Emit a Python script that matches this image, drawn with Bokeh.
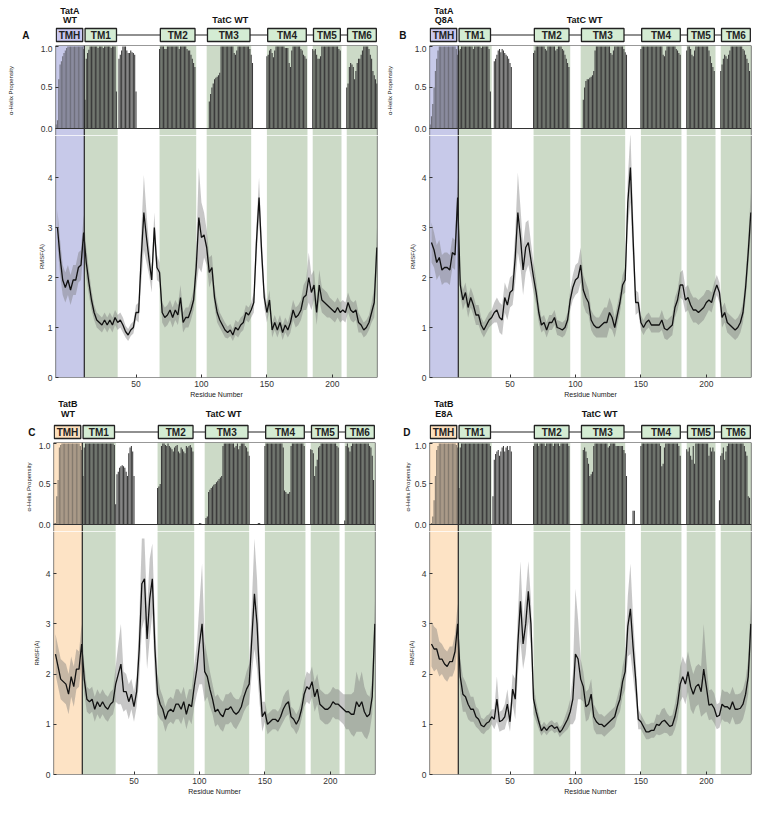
from bokeh.plotting import figure
from bokeh.layouts import column, row
from bokeh.models import Range1d, FixedTicker, PrintfTickFormatter, Span
from bokeh.embed import file_html
from bokeh.resources import INLINE
from bokeh.core.properties import value

# ----------------------------------------------------------------- data
helix_residues = list(range(-11, 235))      # one bar per residue
rmsf_residues = list(range(-10, 235, 2))     # RMSF sampled every 2 residues

tm_names = ["TM1", "TM2", "TM3", "TM4", "TM5", "TM6"]
tm_start = [10.5, 68, 104, 150, 185, 211]
tm_end = [36, 96, 138, 181, 207, 234.5]
tmh_start, tmh_end = -11.5, 10.5

helix_A = [
    0.05, 0.10, 0.60, 0.78, 0.82, 0.88, 0.92, 0.95, 0.98, 1.00,
    1, 1, 1, 1, 1, 1, 1, 1, 1, 1,
    1.00, 0.97, 0.35, 0.85, 0.92, 0.96, 1, 1, 1, 1,
    1, 1, 0.98, 1, 1, 1, 0.98, 1, 1, 1,
    1, 1, 0.98, 1, 1, 1, 0.45, 0, 0.85, 0.90,
    0.95, 1, 1, 1, 0.95, 0.92, 0.92, 0.95, 0.93, 0.92,
    0.90, 0.45, 0, 0, 0, 0, 0, 0, 0, 0,
    0, 0, 0, 0, 0, 0, 0, 0, 0, 0.97,
    1, 1, 1, 0.97, 0.97, 1, 1, 1, 1, 1,
    1, 1, 1, 1, 0.97, 1, 1, 1, 1, 1,
    0.97, 0.95, 0.95, 0.90, 0.85, 0.80, 0.75, 0, 0, 0,
    0, 0, 0, 0, 0, 0, 0, 0.33, 0.42, 0.50,
    0.55, 0.60, 0.62, 0.63, 0.65, 0.68, 1, 1, 1, 1,
    1, 1, 1, 1, 1, 1, 0.92, 0.90, 0.95, 1,
    1, 1, 1, 1, 1, 1, 1, 1, 0.97, 0.90,
    0.80, 0, 0, 0, 0, 0, 0, 0, 0, 0,
    0, 0.88, 0.90, 0.95, 0.97, 0.92, 0.87, 0.95, 1, 1,
    1, 1, 1, 1, 1, 0.98, 0.98, 0.98, 0.80, 0.75,
    0.95, 1, 1, 1, 1, 1, 1, 0.97, 0.95, 0.90,
    0.88, 0.85, 0, 0, 0, 0, 0.97, 0.95, 0.97, 0.90,
    0.85, 0.85, 0.88, 1, 1, 1, 1, 1, 1, 1,
    1, 1, 1, 1, 1, 1, 0.97, 0.95, 0, 0,
    0, 0, 0.50, 0.55, 0.75, 0.80, 0.78, 0.75, 0.60, 0.70,
    0.80, 0.85, 0.85, 0.90, 0.95, 1, 1, 1, 1, 0.97,
    0.90, 0.85, 0.70, 0.65, 0.60, 0.55,
]

helix_B = [
    0.05, 0.15, 0.30, 0.50, 0.70, 0.85, 0.95, 1, 1, 1,
    1, 1, 1, 1, 1, 1, 1, 1, 1, 1,
    0.97, 0.90, 0.95, 0.97, 1, 1, 1, 1, 1, 1,
    1, 1, 1, 0.97, 1, 1, 1, 1, 1, 0.98,
    1, 1, 1, 1, 1, 0.97, 0.45, 0, 0, 0.82,
    0.85, 0.90, 0.95, 0.97, 0.93, 0.97, 0.95, 0.92, 0.90, 0.88,
    0.85, 0.80, 0.75, 0, 0, 0, 0, 0, 0, 0,
    0, 0, 0, 0, 0, 0, 0, 0, 0, 0.92,
    0.95, 1, 1, 1, 1, 1, 1, 1, 0.97, 0.95,
    1, 1, 1, 1, 1, 1, 0.95, 0.97, 1, 1,
    1, 0.97, 0.95, 0.90, 0.85, 0.80, 0.75, 0, 0, 0,
    0, 0, 0, 0, 0, 0, 0, 0.35, 0.50, 0.58,
    0.60, 0.60, 0.62, 0.63, 0.65, 0.70, 0.95, 1, 1, 1,
    1, 1, 1, 1, 1, 1, 1, 1, 0.92, 0.90,
    0.95, 1, 1, 1, 1, 1, 1, 1, 0.97, 0.93,
    0.90, 0, 0, 0, 0, 0, 0, 0, 0, 0,
    0, 0.97, 1, 1, 1, 1, 1, 1, 1, 1,
    1, 1, 1, 1, 1, 1, 1, 1, 0.90, 0.88,
    0.95, 1, 1, 1, 1, 1, 1, 1, 0.97, 0.95,
    0.92, 0.90, 0, 0, 0, 0, 0.95, 1, 1, 0.97,
    0.90, 0.88, 0.95, 1, 1, 1, 1, 1, 1, 1,
    1, 1, 1, 0.95, 0.88, 0.80, 0.75, 0.70, 0, 0,
    0, 0, 0.70, 0.78, 0.85, 0.90, 0.88, 0.85, 0.90, 0.95,
    1, 1, 1, 1, 1, 1, 1, 1, 1, 0.97,
    0.95, 0.90, 0.85, 0.80, 0.70, 0,
]

helix_C = [
    0.02, 0.02, 0.35, 0.55, 0.95, 0.98, 1, 1, 1, 1,
    1, 1, 1, 1, 1, 1, 1, 1, 1, 1,
    0.97, 0.92, 0.60, 0.95, 1, 1, 1, 1, 1, 1,
    1, 1, 1, 1, 1, 1, 1, 1, 1, 1,
    1, 1, 1, 1, 1, 1, 0.98, 0.25, 0.62, 0.65,
    0.70, 0.72, 0.73, 0.72, 0.70, 0.65, 0.60, 0.88, 0.95, 0.97,
    0.90, 0.60, 0, 0, 0, 0, 0, 0, 0, 0,
    0, 0, 0, 0, 0, 0, 0, 0, 0, 0.45,
    0.47, 0.50, 0.97, 1, 1, 0.98, 0.97, 1, 0.97, 0.95,
    0.93, 0.90, 0.95, 0.97, 0.98, 0.90, 0.88, 0.95, 0.93, 0.90,
    0.88, 0.97, 0.95, 0.97, 0.98, 0.95, 0.90, 0, 0, 0,
    0, 0.02, 0.02, 0, 0, 0, 0.08, 0.10, 0.40, 0.43,
    0.45, 0.47, 0.49, 0.50, 0.52, 0.54, 0.56, 0.58, 0.60, 0.97,
    1, 1, 1, 1, 1, 1, 1, 1, 0.95, 0.97,
    1, 0.93, 0.97, 1, 1, 1, 0.97, 0.95, 0.90, 0.85,
    0, 0, 0, 0, 0, 0, 0.02, 0.02, 0, 0,
    0, 0.97, 1, 1, 1, 1, 1, 1, 1, 1,
    1, 1, 1, 1, 1, 0.95, 0.42, 0.40, 0.38, 0.38,
    0.40, 0.97, 1, 1, 1, 1, 1, 1, 1, 1,
    1, 0.97, 0, 0, 0, 0, 0.93, 0.92, 0.88, 0.60,
    0.72, 0.80, 0.95, 0.97, 1, 1, 1, 1, 1, 1,
    1, 1, 1, 1, 1, 1, 0.97, 0.95, 0, 0,
    0, 0, 0.05, 0.97, 1, 0.95, 0.90, 0.97, 1, 1,
    1, 1, 1, 1, 1, 1, 1, 1, 1, 1,
    1, 0.97, 0.95, 0.85, 0.55, 0,
]

helix_D = [
    0, 0.02, 0.10, 0.30, 0.60, 0.92, 0.97, 1, 1, 1,
    1, 1, 1, 1, 1, 1, 1, 1, 1, 1,
    0.98, 0.95, 0.45, 0.95, 1, 1, 1, 1, 1, 1,
    1, 1, 1, 1, 1, 1, 1, 1, 1, 1,
    1, 1, 1, 1, 1, 1, 0.97, 0, 0.35, 0.80,
    0.87, 0.90, 0.92, 0.85, 0.90, 0.95, 0.97, 0.90, 0.95, 0.97,
    0.92, 0.97, 0.90, 0, 0, 0, 0, 0, 0, 0,
    0, 0, 0, 0, 0, 0, 0, 0, 0, 0.97,
    1, 1, 1, 0.97, 1, 1, 1, 1, 0.97, 1,
    1, 1, 1, 1, 0.97, 1, 1, 1, 1, 0.97,
    1, 1, 1, 1, 1, 1, 0.97, 0, 0, 0,
    0, 0, 0, 0, 0, 0, 0, 0.92, 0.95, 0.90,
    0.82, 0.75, 0.60, 0.62, 0.65, 0.97, 1, 1, 1, 1,
    1, 1, 1, 1, 1, 1, 0.95, 0.97, 1, 1,
    1, 1, 0.97, 0.97, 0.97, 0.97, 0.97, 0.97, 0.92, 0.88,
    0.60, 0, 0, 0, 0, 0.17, 0.17, 0, 0, 0,
    0, 0.97, 1, 1, 1, 1, 1, 1, 1, 1,
    1, 1, 1, 1, 1, 1, 0.97, 0.72, 0.75, 0.95,
    1, 1, 1, 1, 1, 1, 1, 1, 1, 1,
    0.97, 0.85, 0, 0, 0, 0, 0.93, 0.90, 0.95, 0.85,
    0.80, 0.97, 0.75, 1, 1, 1, 1, 1, 1, 1,
    1, 1, 1, 0.85, 0.95, 0.90, 0.95, 0.90, 0, 0,
    0, 0.30, 0.85, 0.88, 0.95, 0.80, 0.90, 0.97, 1, 1,
    1, 1, 1, 1, 1, 1, 1, 1, 1, 1,
    0.97, 0.90, 0.85, 0.35, 0.33, 0,
]

rmsf_A = [
    3.00, 2.40, 1.95, 1.80, 1.95, 1.75, 1.95, 1.95, 2.20, 2.25,
    2.90, 2.30, 1.90, 1.55, 1.30, 1.15, 1.10, 1.05, 1.15, 1.05,
    1.15, 1.05, 1.20, 1.10, 1.15, 1.05, 0.92, 0.85, 0.95, 1.00,
    1.30, 1.30, 2.40, 3.30, 2.80, 2.35, 1.95, 3.00, 2.20, 2.10,
    1.30, 1.20, 1.25, 1.35, 1.20, 1.35, 1.25, 1.60, 1.10, 1.20,
    1.20, 1.35, 1.55, 2.20, 3.20, 2.80, 2.85, 2.60, 2.10, 2.20,
    1.60, 1.30, 1.15, 1.05, 0.95, 0.90, 0.95, 0.85, 1.00, 0.95,
    1.05, 1.10, 1.30, 1.25, 1.35, 1.50, 2.70, 3.60, 2.50, 1.60,
    1.30, 1.55, 0.95, 1.10, 0.95, 1.10, 0.90, 1.05, 0.95, 1.10,
    1.35, 1.20, 1.25, 1.35, 1.60, 1.65, 2.00, 1.70, 1.85, 1.30,
    1.85, 1.55, 1.50, 1.45, 1.40, 1.35, 1.30, 1.40, 1.30, 1.35,
    1.30, 1.50, 1.35, 1.30, 1.35, 1.10, 1.05, 0.95, 1.00, 1.10,
    1.30, 1.50, 2.60,
]
sd_A = [
    0.35, 0.35, 0.30, 0.30, 0.30, 0.30, 0.30, 0.30, 0.30, 0.30,
    0.35, 0.30, 0.25, 0.20, 0.15, 0.15, 0.15, 0.15, 0.15, 0.15,
    0.15, 0.15, 0.15, 0.15, 0.15, 0.15, 0.12, 0.12, 0.12, 0.12,
    0.15, 0.20, 0.50, 0.75, 0.50, 0.30, 0.25, 0.30, 0.25, 0.20,
    0.20, 0.20, 0.20, 0.20, 0.20, 0.20, 0.20, 0.25, 0.20, 0.20,
    0.20, 0.20, 0.20, 0.40, 1.00, 0.70, 0.45, 0.35, 0.30, 0.25,
    0.20, 0.20, 0.15, 0.15, 0.15, 0.12, 0.12, 0.12, 0.15, 0.15,
    0.15, 0.15, 0.15, 0.15, 0.15, 0.20, 0.35, 0.40, 0.30, 0.20,
    0.20, 0.20, 0.15, 0.15, 0.15, 0.15, 0.15, 0.15, 0.15, 0.20,
    0.20, 0.20, 0.20, 0.20, 0.25, 0.30, 0.50, 0.35, 0.30, 0.25,
    0.30, 0.25, 0.25, 0.25, 0.20, 0.20, 0.20, 0.20, 0.20, 0.20,
    0.20, 0.20, 0.20, 0.20, 0.20, 0.20, 0.15, 0.15, 0.15, 0.15,
    0.20, 0.30, 0.40,
]

rmsf_B = [
    2.70, 2.55, 2.30, 2.40, 2.15, 2.20, 2.20, 2.15, 2.50, 2.45,
    3.60, 1.85, 1.55, 1.70, 1.40, 1.60, 1.45, 1.25, 1.25, 1.05,
    0.95, 1.05, 1.15, 1.20, 1.30, 1.35, 1.20, 1.15, 1.60, 1.45,
    1.70, 1.75, 2.40, 3.30, 2.80, 2.15, 2.60, 2.70, 2.35, 2.00,
    1.70, 1.30, 1.05, 1.10, 0.95, 1.10, 1.10, 1.20, 1.00, 0.98,
    0.95, 1.00, 1.15, 1.55, 1.80, 1.95, 2.00, 2.25, 1.75, 1.60,
    1.50, 1.15, 1.05, 1.00, 1.00, 1.05, 1.10, 1.10, 1.30, 1.20,
    1.00, 1.25, 1.50, 1.85, 1.95, 3.50, 4.20, 2.80, 1.50, 1.50,
    1.10, 1.00, 1.10, 1.15, 1.05, 1.05, 1.05, 1.05, 1.15, 0.98,
    0.95, 1.00, 1.05, 1.40, 1.55, 1.85, 1.85, 1.55, 1.60, 1.45,
    1.35, 1.35, 1.30, 1.35, 1.40, 1.50, 1.55, 1.50, 1.70, 1.85,
    1.70, 1.20, 1.30, 1.10, 1.05, 1.00, 0.95, 1.00, 1.10, 1.30,
    1.80, 2.50, 3.30,
]
sd_B = [
    0.40, 0.35, 0.35, 0.35, 0.30, 0.30, 0.30, 0.30, 0.30, 0.30,
    0.40, 0.20, 0.20, 0.20, 0.20, 0.20, 0.20, 0.20, 0.20, 0.15,
    0.15, 0.15, 0.15, 0.15, 0.20, 0.25, 0.30, 0.30, 0.30, 0.30,
    0.30, 0.30, 0.50, 0.80, 0.60, 0.50, 0.50, 0.45, 0.35, 0.30,
    0.25, 0.20, 0.15, 0.15, 0.15, 0.15, 0.15, 0.15, 0.15, 0.15,
    0.15, 0.15, 0.15, 0.20, 0.25, 0.30, 0.30, 0.35, 0.30, 0.30,
    0.25, 0.20, 0.20, 0.20, 0.20, 0.25, 0.30, 0.30, 0.30, 0.25,
    0.20, 0.20, 0.20, 0.20, 0.25, 0.50, 0.70, 0.50, 0.25, 0.20,
    0.15, 0.15, 0.15, 0.15, 0.15, 0.15, 0.15, 0.15, 0.20, 0.20,
    0.20, 0.20, 0.20, 0.20, 0.20, 0.25, 0.30, 0.25, 0.25, 0.25,
    0.25, 0.25, 0.25, 0.25, 0.25, 0.25, 0.20, 0.20, 0.20, 0.20,
    0.20, 0.20, 0.20, 0.20, 0.20, 0.20, 0.20, 0.20, 0.20, 0.20,
    0.25, 0.30, 0.40,
]

rmsf_C = [
    2.40, 2.15, 1.90, 1.85, 1.80, 1.60, 1.95, 1.75, 2.10, 2.10,
    2.60, 1.90, 1.50, 1.45, 1.50, 1.30, 1.45, 1.35, 1.45, 1.35,
    1.30, 1.40, 1.45, 1.80, 2.00, 2.20, 1.65, 1.65, 1.45, 1.60,
    1.35, 1.65, 2.50, 3.80, 3.90, 2.70, 3.50, 3.90, 2.50, 1.60,
    1.40, 1.30, 1.10, 1.25, 1.30, 1.25, 1.40, 1.40, 1.30, 1.45,
    1.20, 1.40, 1.35, 1.75, 2.10, 2.60, 3.00, 2.05, 1.95, 1.70,
    1.50, 1.25, 1.30, 1.20, 1.15, 1.30, 1.30, 1.35, 1.25, 1.20,
    1.25, 1.35, 1.55, 1.70, 1.80, 2.70, 3.60, 3.00, 1.90, 1.15,
    1.25, 1.00, 1.05, 1.10, 1.10, 1.05, 1.15, 1.30, 1.40, 1.45,
    1.15, 1.10, 1.00, 1.10, 1.30, 1.60, 1.75, 1.70, 1.85, 1.55,
    1.70, 1.40, 1.35, 1.30, 1.30, 1.35, 1.45, 1.40, 1.40, 1.35,
    1.30, 1.25, 1.25, 1.20, 1.20, 1.45, 1.35, 1.45, 1.25, 1.15,
    1.20, 1.55, 3.00,
]
sd_C = [
    0.40, 0.40, 0.40, 0.40, 0.40, 0.40, 0.40, 0.40, 0.40, 0.35,
    0.40, 0.30, 0.25, 0.25, 0.25, 0.25, 0.25, 0.25, 0.25, 0.25,
    0.25, 0.25, 0.25, 0.35, 0.60, 0.80, 0.40, 0.35, 0.35, 0.30,
    0.30, 0.30, 0.60, 0.90, 0.80, 0.60, 0.80, 0.70, 0.60, 0.40,
    0.30, 0.25, 0.25, 0.25, 0.25, 0.25, 0.30, 0.30, 0.30, 0.30,
    0.30, 0.30, 0.35, 0.40, 0.50, 0.80, 1.20, 0.60, 0.40, 0.35,
    0.30, 0.30, 0.30, 0.30, 0.30, 0.30, 0.30, 0.30, 0.30, 0.30,
    0.25, 0.25, 0.30, 0.35, 0.40, 0.70, 1.10, 0.90, 0.50, 0.30,
    0.20, 0.20, 0.20, 0.20, 0.20, 0.20, 0.20, 0.25, 0.25, 0.25,
    0.20, 0.20, 0.20, 0.20, 0.20, 0.25, 0.30, 0.30, 0.30, 0.30,
    0.30, 0.30, 0.30, 0.30, 0.30, 0.30, 0.30, 0.30, 0.30, 0.30,
    0.30, 0.35, 0.35, 0.40, 0.45, 0.60, 0.50, 0.60, 0.50, 0.45,
    0.35, 0.35, 0.45,
]

rmsf_D = [
    2.60, 2.50, 2.50, 2.30, 2.30, 2.20, 2.15, 2.25, 2.25, 2.45,
    3.00, 1.95, 1.60, 1.55, 1.40, 1.30, 1.30, 1.15, 1.10, 0.98,
    0.95, 1.02, 1.05, 1.15, 1.10, 1.50, 1.05, 1.08, 1.15, 1.40,
    1.05, 1.70, 1.50, 2.60, 3.45, 2.60, 3.00, 3.65, 3.00, 1.50,
    1.25, 1.05, 0.87, 0.95, 0.88, 0.95, 0.98, 0.92, 0.95, 0.84,
    0.90, 1.00, 1.10, 1.25, 1.50, 2.40, 2.30, 1.90, 1.75, 1.35,
    1.40, 1.60, 1.15, 1.05, 1.00, 1.00, 0.95, 1.00, 1.05, 1.10,
    1.15, 1.35, 1.50, 1.85, 2.05, 2.95, 3.30, 2.55, 1.90, 1.10,
    1.05, 0.95, 0.85, 0.85, 0.88, 0.88, 1.00, 0.98, 1.05, 1.08,
    1.02, 0.96, 0.98, 1.15, 1.40, 1.80, 1.95, 1.80, 2.05, 1.75,
    1.60, 1.75, 1.80, 1.65, 2.10, 1.75, 1.38, 1.40, 1.32, 1.15,
    1.18, 1.40, 1.35, 1.35, 1.30, 1.45, 1.30, 1.30, 1.32, 1.40,
    1.60, 1.95, 3.00,
]
sd_D = [
    0.45, 0.45, 0.40, 0.35, 0.30, 0.30, 0.30, 0.30, 0.30, 0.35,
    0.40, 0.35, 0.35, 0.30, 0.30, 0.25, 0.25, 0.20, 0.20, 0.15,
    0.15, 0.15, 0.15, 0.15, 0.20, 0.45, 0.20, 0.20, 0.25, 0.30,
    0.20, 0.30, 0.40, 0.60, 0.80, 0.50, 0.60, 0.60, 0.50, 0.30,
    0.20, 0.15, 0.10, 0.10, 0.10, 0.10, 0.10, 0.10, 0.10, 0.10,
    0.10, 0.15, 0.20, 0.25, 0.50, 1.30, 0.80, 0.40, 0.30, 0.30,
    0.30, 0.30, 0.25, 0.25, 0.20, 0.20, 0.20, 0.20, 0.20, 0.20,
    0.20, 0.20, 0.25, 0.30, 0.35, 0.60, 0.90, 0.60, 0.40, 0.20,
    0.15, 0.15, 0.15, 0.15, 0.15, 0.15, 0.20, 0.20, 0.25, 0.25,
    0.20, 0.20, 0.20, 0.25, 0.30, 0.35, 0.40, 0.40, 0.40, 0.45,
    0.40, 0.40, 0.40, 0.50, 0.90, 0.50, 0.30, 0.30, 0.30, 0.25,
    0.25, 0.30, 0.30, 0.30, 0.30, 0.30, 0.30, 0.30, 0.30, 0.30,
    0.30, 0.35, 0.45,
]

for name, arr, n in [("helix_A", helix_A, 246), ("helix_B", helix_B, 246),
                     ("helix_C", helix_C, 246), ("helix_D", helix_D, 246),
                     ("rmsf_A", rmsf_A, 123), ("sd_A", sd_A, 123),
                     ("rmsf_B", rmsf_B, 123), ("sd_B", sd_B, 123),
                     ("rmsf_C", rmsf_C, 123), ("sd_C", sd_C, 123),
                     ("rmsf_D", rmsf_D, 123), ("sd_D", sd_D, 123)]:
    assert len(arr) == n, (name, len(arr))

# ----------------------------------------------------------------- style
FONT = "Liberation Sans"
FRAME_W = 322
X0, X1 = -11.5, 234.5
BAR_TOP = 1.012
RMSF_TOP = 4.98
STRIP = 7          # px of the RMSF panel carried by the bar figure (room for "0.0")
GREEN = "#ccdac7"
LAV = "#c7c9e9"
PEACH = "#fde3c5"
BOX_GREEN = "#d4ecd3"
BOX_LAV = "#c9c7ef"
BOX_PEACH = "#fde0bd"
DARK = "#222222"
EDGE = "#333333"

panels = [
    dict(letter="A", partner="TatA", variant="WT", region=LAV, box=BOX_LAV,
         helix=helix_A, rmsf=rmsf_A, sd=sd_A, lb=55, rb=6,
         topo_h=45, bar_h=83, rmsf_h=249, bottom=23, tatc_x=122, letter_off=20,
         y_name=34.5, y_var=25.5, y_tatc=26, bar_lab=24, rmsf_lab=0),
    dict(letter="B", partner="TatA", variant="Q8A", region=LAV, box=BOX_LAV,
         helix=helix_B, rmsf=rmsf_B, sd=sd_B, lb=46, rb=6,
         topo_h=45, bar_h=83, rmsf_h=249, bottom=23, tatc_x=107, letter_off=17,
         y_name=34.5, y_var=25.5, y_tatc=26, bar_lab=19, rmsf_lab=3),
    dict(letter="C", partner="TatB", variant="WT", region=PEACH, box=BOX_PEACH,
         helix=helix_C, rmsf=rmsf_C, sd=sd_C, lb=53, rb=8,
         topo_h=42, bar_h=82, rmsf_h=250, bottom=24, tatc_x=118.5, letter_off=12,
         y_name=38.5, y_var=28.5, y_tatc=28.5, bar_lab=4, rmsf_lab=3),
    dict(letter="D", partner="TatB", variant="E8A", region=PEACH, box=BOX_PEACH,
         helix=helix_D, rmsf=rmsf_D, sd=sd_D, lb=46, rb=6,
         topo_h=42, bar_h=82, rmsf_h=250, bottom=24, tatc_x=118.5, letter_off=13,
         y_name=38.5, y_var=28.5, y_tatc=28.5, bar_lab=1, rmsf_lab=4),
]


def style_axis(ax):
    ax.major_label_text_font = FONT
    ax.major_label_text_font_size = "8.5px"
    ax.major_label_text_color = "#333333"
    ax.axis_label_text_font = FONT
    ax.axis_label_text_font_style = "normal"
    ax.axis_label_text_color = DARK
    ax.major_tick_in = 3
    ax.major_tick_out = 0
    ax.minor_tick_line_color = None
    ax.axis_line_color = None
    ax.major_tick_line_color = "#333333"
    ax.major_label_standoff = 3


def edges(p, horiz, vert):
    for loc in horiz:
        p.add_layout(Span(location=loc, dimension="width", line_color=EDGE, line_width=1.2))
    for loc in vert:
        p.add_layout(Span(location=loc, dimension="height", line_color=EDGE, line_width=1.2))


def make_topo(cfg):
    H = cfg["topo_h"]
    p = figure(frame_width=FRAME_W, frame_height=H, title=None,
               x_range=Range1d(X0, X1), y_range=Range1d(0, H),
               output_backend="svg", toolbar_location=None, x_axis_location=None,
               min_border_left=cfg["lb"], min_border_right=cfg["rb"],
               min_border_top=0, min_border_bottom=0)
    p.grid.visible = False
    p.outline_line_color = None
    b0, b1 = 4, 17
    ym = (b0 + b1) / 2
    # panel letter drawn as the single tick label of the strip's y axis
    ya = p.yaxis[0]
    ya.ticker = FixedTicker(ticks=[ym])
    ya.major_label_overrides = {ym: cfg["letter"]}
    ya.major_label_text_font = FONT
    ya.major_label_text_font_style = "bold"
    ya.major_label_text_font_size = "10px"
    ya.major_label_text_color = "#111111"
    ya.major_label_standoff = int(cfg["letter_off"])
    ya.major_tick_line_color = None
    ya.minor_tick_line_color = None
    ya.axis_line_color = None
    left = [s + 0.6 for s in tm_start]
    right = [e - 0.9 for e in tm_end]
    p.segment(x0=right[:-1], y0=ym, x1=left[1:], y1=ym, line_color=DARK, line_width=1.1)
    p.quad(left=[tmh_start + 0.6], right=[tmh_end - 1.2], bottom=b0, top=b1,
           fill_color=cfg["box"], line_color=DARK, line_width=1.3)
    p.quad(left=left, right=right, bottom=b0, top=b1,
           fill_color=BOX_GREEN, line_color=DARK, line_width=1.3)
    cx = [(l + r) / 2 for l, r in zip(left, right)]
    p.text(x=[(tmh_start + tmh_end - 0.6) / 2] + cx, y=ym, text=["TMH"] + tm_names,
           text_font=value(FONT), text_font_style="bold", text_font_size="10px",
           text_align="center", text_baseline="middle", text_color=DARK)
    mid_tmh = (tmh_start + tmh_end) / 2
    p.text(x=[mid_tmh, mid_tmh, cfg["tatc_x"]],
           y=[cfg["y_name"], cfg["y_var"], cfg["y_tatc"]],
           text=[cfg["partner"], cfg["variant"], "TatC WT"],
           text_font=value(FONT), text_font_style="bold", text_font_size="9px",
           text_align="center", text_baseline="middle", text_color="#111111")
    return p


def make_bars(cfg):
    y0 = -STRIP * BAR_TOP / cfg["bar_h"]
    p = figure(frame_width=FRAME_W, frame_height=cfg["bar_h"] + STRIP, title=None,
               x_range=Range1d(X0, X1), y_range=Range1d(y0, BAR_TOP),
               output_backend="svg", toolbar_location=None, x_axis_location=None,
               min_border_left=cfg["lb"], min_border_right=cfg["rb"],
               min_border_top=0, min_border_bottom=0)
    p.grid.visible = False
    p.outline_line_color = None
    p.quad(left=[tmh_start], right=[tmh_end], bottom=y0, top=BAR_TOP,
           fill_color=cfg["region"], line_color=None)
    p.quad(left=tm_start, right=tm_end, bottom=y0, top=BAR_TOP,
           fill_color=GREEN, line_color=None)
    split = helix_residues.index(11)
    h = cfg["helix"]
    p.vbar(x=helix_residues[:split], top=h[:split], width=0.82,
           fill_color="#333333", fill_alpha=0.6, line_color=None)
    p.vbar(x=helix_residues[split:], top=h[split:], width=0.82,
           fill_color="#3b3b3b", line_color=None)
    p.add_layout(Span(location=tmh_end, dimension="height", line_color=DARK, line_width=1.2))
    edges(p, [BAR_TOP, 0], [X0, X1])
    ax = p.yaxis[0]
    ax.ticker = FixedTicker(ticks=[0, 0.5, 1.0])
    ax.formatter = PrintfTickFormatter(format="%.1f")
    ax.axis_label = "α-Helix Propensity"
    style_axis(ax)
    ax.axis_label_text_font_size = "6px"
    ax.axis_label_standoff = int(cfg["bar_lab"])
    return p


def make_rmsf(cfg):
    top = RMSF_TOP - STRIP * RMSF_TOP / cfg["rmsf_h"]
    p = figure(frame_width=FRAME_W, frame_height=cfg["rmsf_h"] - STRIP, title=None,
               x_range=Range1d(X0, X1), y_range=Range1d(0, top),
               output_backend="svg", toolbar_location=None,
               min_border_left=cfg["lb"], min_border_right=cfg["rb"],
               min_border_top=0, min_border_bottom=cfg["bottom"])
    p.grid.visible = False
    p.outline_line_color = None
    p.quad(left=[tmh_start], right=[tmh_end], bottom=0, top=top,
           fill_color=cfg["region"], line_color=None)
    p.quad(left=tm_start, right=tm_end, bottom=0, top=top,
           fill_color=GREEN, line_color=None)
    m, s = cfg["rmsf"], cfg["sd"]
    lo = [a - b for a, b in zip(m, s)]
    hi = [a + b for a, b in zip(m, s)]
    p.varea(x=rmsf_residues, y1=lo, y2=hi, fill_color="#7a7a7a", fill_alpha=0.42)
    p.line(x=rmsf_residues, y=m, line_color="#111111", line_width=1.3)
    p.add_layout(Span(location=tmh_end, dimension="height", line_color=DARK, line_width=1.2))
    edges(p, [0], [X0, X1])
    xa = p.xaxis[0]
    xa.ticker = FixedTicker(ticks=[50, 100, 150, 200])
    xa.axis_label = "Residue Number"
    style_axis(xa)
    xa.axis_label_text_font_size = "7px"
    xa.axis_label_standoff = 1
    ya = p.yaxis[0]
    ya.ticker = FixedTicker(ticks=[0, 1, 2, 3, 4])
    ya.axis_label = "RMSF(Å)"
    style_axis(ya)
    ya.axis_label_text_font_size = "6px"
    ya.axis_label_standoff = int(cfg["rmsf_lab"])
    return p


cols = [column(make_topo(c), make_bars(c), make_rmsf(c)) for c in panels]
layout = column(row(cols[0], cols[1]), row(cols[2], cols[3]))

open("out.html", "w").write(file_html(layout, INLINE))
